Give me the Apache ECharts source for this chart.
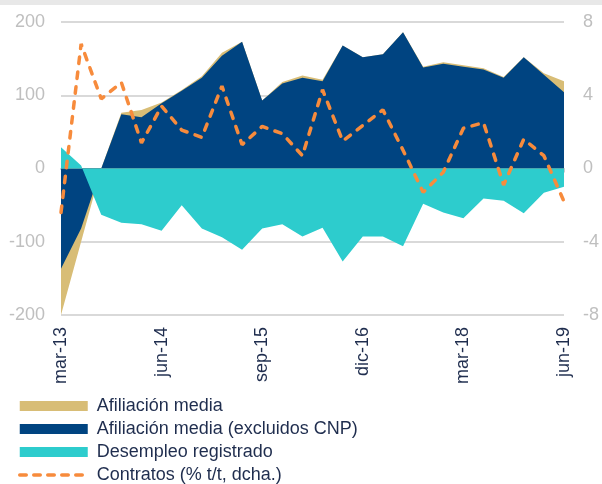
<!DOCTYPE html>
<html>
<head>
<meta charset="utf-8">
<script src="https://cdn.jsdelivr.net/npm/echarts@6/dist/echarts.min.js"></script>
<style>
  html, body { margin: 0; padding: 0; background: #fff; }
  #topbar { position: absolute; left: 0; top: 0; width: 602px; height: 5px; background: #e8e8e8; z-index: 2; }
  #chart { width: 602px; height: 484px; }
</style>
</head>
<body>
<div id="topbar"></div>
<div id="chart"></div>
<script>
// trimestres mar-13 .. jun-19
const quarters = ['mar-13', 'jun-13', 'sep-13', 'dic-13', 'mar-14', 'jun-14', 'sep-14', 'dic-14',
  'mar-15', 'jun-15', 'sep-15', 'dic-15', 'mar-16', 'jun-16', 'sep-16', 'dic-16',
  'mar-17', 'jun-17', 'sep-17', 'dic-17', 'mar-18', 'jun-18', 'sep-18', 'dic-18',
  'mar-19', 'jun-19']

const afiliacion = [-200, -100, 0, 76, 80, 90, 107, 126, 158, 173, 93, 118, 127, 121, 168, 152,
  156, 186, 139, 145, 141, 137, 125, 152, 130, 119]
const afiliacionExCNP = [-137, -82, 0, 74, 70, 89, 106, 124, 154, 173, 93, 116, 124, 119, 168, 152,
  156, 186, 138, 143, 139, 135, 124, 152, 128, 104]
const desempleo = [29, 4, -63, -74, -76, -85, -50, -82, -94, -111, -82, -76, -93, -81, -127, -93,
  -93, -106, -48, -60, -68, -41, -44, -61, -33, -25]
const contratos = [-2.4, 6.8, 3.8, 4.7, 1.4, 3.4, 2.1, 1.7, 4.5, 1.3, 2.3, 1.9, 0.7, 4.3, 1.5, 2.35,
  3.2, 1.0, -1.3, -0.2, 2.2, 2.5, -0.9, 1.6, 0.7, -1.8]

const leftTicks = [-200, 200, 100]   // min, max, interval
const rightTicks = [-8, 8, 4]

const names = ['Afiliación media', 'Afiliación media (excluidos CNP)', 'Desempleo registrado', 'Contratos (% t/t, dcha.)']
const colors = ['#d8bd76', '#004481', '#2dcccd', '#f78b3c']
const font = 'Liberation Sans, Arial, sans-serif'
const navy = '#1f2d4e'
const grey = '#bfbfbf'

const myChart = echarts.init(document.getElementById('chart'))

function areaSeries(i, data) {
  return {
    name: names[i],
    type: 'line',
    data: data,
    symbol: 'none',
    lineStyle: { width: 0 },
    itemStyle: { color: colors[i] },
    areaStyle: { color: colors[i], opacity: 1, origin: 0 },
    z: 2 + i
  }
}

const option = {
  animation: false,
  textStyle: { fontFamily: font },
  grid: { left: 61, right: 35, top: 22, bottom: 169 },
  legend: {
    orient: 'vertical',
    left: 18,
    top: 397,
    height: 110,
    padding: 0,
    itemWidth: 68,
    itemHeight: 10,
    itemGap: 5,
    textStyle: { fontSize: 18, color: navy, fontFamily: font, padding: [0, 0, 0, 4] },
    data: [
      { name: names[0], icon: 'rect' },
      { name: names[1], icon: 'rect' },
      { name: names[2], icon: 'rect' },
      { name: names[3], itemStyle: { opacity: 0 }, lineStyle: { width: 3.5, type: [6.5, 7.5], cap: 'round' } }
    ]
  },
  xAxis: [
    {
      type: 'category',
      data: quarters,
      boundaryGap: false,
      position: 'bottom',
      axisLine: { show: false, onZero: false },
      axisTick: { show: false },
      axisLabel: { rotate: 90, interval: 4, fontSize: 18, color: navy, margin: 12 }
    },
    {
      type: 'category',
      data: quarters,
      boundaryGap: false,
      position: 'bottom',
      axisLine: { onZero: true, lineStyle: { color: '#c6cacf', width: 2 } },
      axisTick: { show: true, interval: 4, length: 4, lineStyle: { color: '#c6cacf', width: 1 } },
      axisLabel: { show: false }
    }
  ],
  yAxis: [
    {
      type: 'value',
      min: leftTicks[0], max: leftTicks[1], interval: leftTicks[2],
      axisLine: { show: false },
      axisTick: { show: false },
      axisLabel: { fontSize: 18, color: grey, margin: 16 },
      splitLine: { lineStyle: { color: '#d9d9d9', width: 2 } }
    },
    {
      type: 'value',
      min: rightTicks[0], max: rightTicks[1], interval: rightTicks[2],
      position: 'right',
      axisLine: { show: false },
      axisTick: { show: false },
      axisLabel: { fontSize: 18, color: grey, margin: 19 },
      splitLine: { show: false }
    }
  ],
  series: [
    areaSeries(0, afiliacion),
    areaSeries(1, afiliacionExCNP),
    areaSeries(2, desempleo),
    {
      name: names[3],
      type: 'line',
      yAxisIndex: 1,
      data: contratos,
      symbol: 'none',
      itemStyle: { color: colors[3] },
      lineStyle: { color: colors[3], width: 3.5, type: [6.5, 8.5], cap: 'round' },
      z: 10
    }
  ]
}

myChart.setOption(option)
</script>
</body>
</html>
